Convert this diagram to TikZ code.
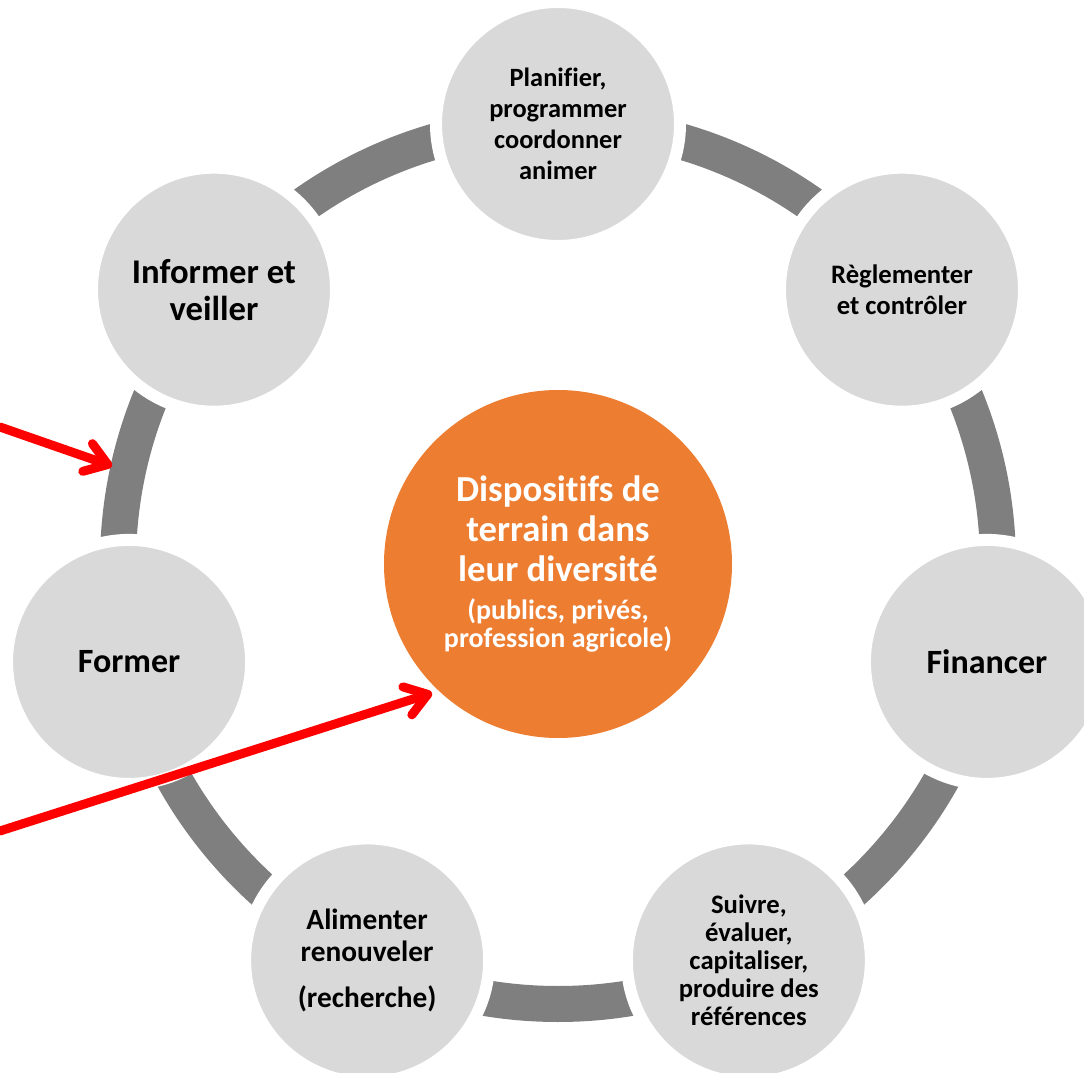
\documentclass[tikz,border=0pt]{standalone}
\usepackage{fontspec}
\setmainfont[Ligatures=NoCommon]{Carlito}
\usetikzlibrary{shapes}
\usetikzlibrary{arrows.meta}

\definecolor{fondgris}{HTML}{D9D9D9}
\definecolor{anneau}{HTML}{7F7F7F}
\definecolor{orangedisp}{HTML}{ED7D31}

\begin{document}
\begin{tikzpicture}[x=0.75pt,y=0.75pt]
	\tikzstyle{etape}=[circle,fill=fondgris,draw=white,line width=9pt,minimum size=183pt,inner sep=0pt,align=center]
	\tikzstyle{coeur}=[circle,fill=orangedisp,minimum size=261pt,inner sep=0pt,align=center,text=white]
	\tikzstyle{fleche}=[draw=red,line width=6.75pt,line cap=round,-{Straight Barb[length=16pt,width=22pt,line cap=round,line join=round]}]
	\useasboundingbox (-558,-509) rectangle (526,564);
	
	\draw[anneau,line width=27pt] (0,0) circle (440);
	
	\node[etape,font={\bfseries\fontsize{19.8}{23.25}\selectfont}] (planifier) at (90:440) {Planifier,\\programmer\\coordonner\\animer};
	\node[etape,font={\bfseries\fontsize{20}{23}\selectfont}] (reglementer) at (38.57:440) {Règlementer\\et contrôler};
	\node[etape,font={\bfseries\fontsize{25.5}{27.75}\selectfont}] (financer) at (-12.86:440) {Financer};
	\node[etape,font={\bfseries\fontsize{20}{21}\selectfont}] (suivre) at (-64.29:440) {Suivre,\\évaluer,\\capitaliser,\\produire des\\références};
	\node[etape,font={\bfseries\fontsize{22}{24}\selectfont}] (alimenter) at (-115.71:440) {Alimenter\\renouveler\\[11pt](recherche)};
	\node[etape,font={\bfseries\fontsize{25.5}{27.75}\selectfont}] (former) at (-167.14:440) {Former};
	\node[etape,font={\bfseries\fontsize{26}{27.75}\selectfont}] (informer) at (141.43:440) {Informer et\\veiller};
	
	\node[coeur,font={\bfseries\fontsize{27.5}{30}\selectfont}] (dispositifs) at (0,0) {Dispositifs de\\terrain dans\\leur diversité\\[-1.5pt]{\fontsize{21}{21}\selectfont (publics, privés,}\\[-9pt]{\fontsize{21}{21}\selectfont profession agricole)}};
	
	% fleches rouges
	\coordinate (depart1) at (-558,137);
	\coordinate (pointe1) at (-446,98);
	\coordinate (depart2) at (-558,-267);
	\coordinate (pointe2) at (-126,-129);
	\draw[fleche] (depart1) -- (pointe1);
	\draw[fleche] (depart2) -- (pointe2);
\end{tikzpicture}
\end{document}
